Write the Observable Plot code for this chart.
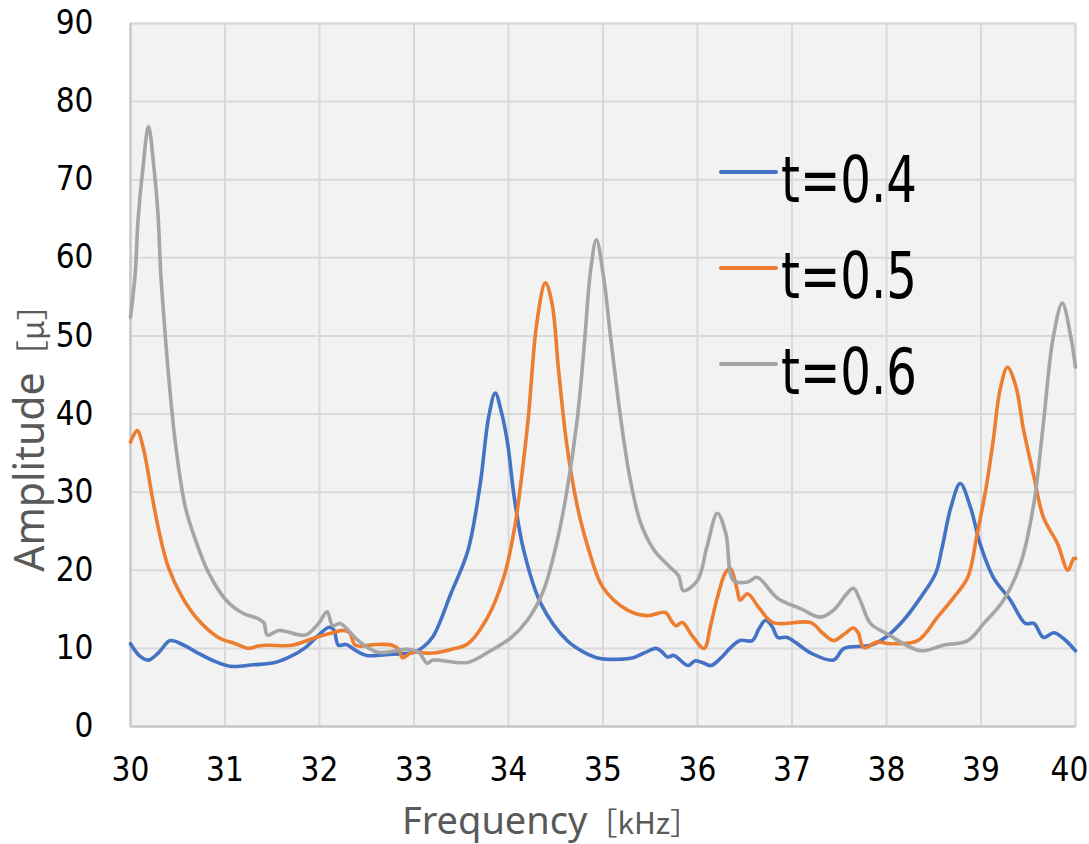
<!DOCTYPE html>
<html>
<head>
<meta charset="utf-8">
<script src="https://cdn.jsdelivr.net/npm/d3@7"></script>
<script src="https://cdn.jsdelivr.net/npm/@observablehq/plot@0.6"></script>
<style>
  html, body { margin: 0; padding: 0; background: #ffffff; }
  #chart { width: 1089px; height: 844px; }
</style>
</head>
<body>
<div id="chart"></div>
<script>
// ---- Data ----
const seriesNames = ["t=0.4", "t=0.5", "t=0.6"];
const seriesColors = ["#4472C4", "#ED7D31", "#A5A5A5"];

const freq04 = [30.0,30.1,30.19,30.3,30.42,30.55,30.7,30.9,31.06,31.3,31.53,31.7,31.85,32.0,32.1,32.15,32.2,32.28,32.4,32.5,32.7,33.0,33.09,33.2,33.39,33.57,33.7,33.79,33.86,33.92,33.99,34.06,34.16,34.34,34.62,34.8,34.97,35.15,35.32,35.45,35.56,35.62,35.68,35.75,35.9,35.97,36.05,36.14,36.25,36.35,36.45,36.58,36.65,36.72,36.79,36.85,36.95,37.2,37.44,37.55,37.83,38.0,38.18,38.36,38.52,38.59,38.68,38.78,38.89,38.99,39.13,39.31,39.47,39.56,39.66,39.77,39.87,40.0];
const amp04  = [10.6,9.0,8.5,9.5,11.0,10.5,9.5,8.3,7.7,7.9,8.2,9.0,10.1,11.8,12.7,12.4,10.4,10.5,9.6,9.1,9.2,9.5,10.1,11.5,17.0,22.5,31.0,39.6,42.7,40.5,36.3,29.4,22.6,15.8,11.0,9.5,8.7,8.6,8.8,9.5,10.0,9.6,8.9,9.1,7.8,8.4,8.2,7.8,8.8,10.1,11.0,11.0,12.5,13.6,12.8,11.4,11.4,9.4,8.5,10.0,10.4,11.5,13.6,16.5,19.6,23.0,28.0,31.1,28.0,23.4,19.1,16.2,13.2,13.2,11.4,12.0,11.3,9.7];

const freq05 = [30.0,30.07,30.14,30.23,30.3,30.4,30.55,30.72,30.93,31.11,31.25,31.35,31.46,31.71,31.96,32.14,32.25,32.32,32.38,32.6,32.77,32.84,32.88,32.98,33.12,33.2,33.4,33.57,33.78,33.95,34.06,34.13,34.21,34.3,34.39,34.46,34.53,34.62,34.73,34.84,35.0,35.26,35.47,35.66,35.72,35.77,35.84,35.95,36.07,36.14,36.21,36.3,36.35,36.42,36.45,36.53,36.65,36.8,37.2,37.32,37.44,37.55,37.65,37.7,37.76,37.9,38.04,38.33,38.54,38.71,38.86,38.96,39.05,39.13,39.2,39.28,39.37,39.45,39.56,39.66,39.81,39.92,39.98,40.0];
const amp05  = [36.4,37.9,35.4,29.4,25.1,20.4,16.5,13.6,11.4,10.6,10.0,10.3,10.4,10.4,11.4,12.0,12.3,12.0,10.4,10.5,10.4,9.8,8.8,9.5,9.4,9.4,9.9,10.6,14.0,19.1,25.1,31.1,39.6,51.7,56.8,54.2,45.6,35.8,28.1,23.0,17.8,14.9,14.2,14.6,13.6,12.9,13.3,11.5,10.0,13.0,16.5,19.8,20.2,17.5,16.2,17.0,15.2,13.3,13.3,12.0,11.0,11.8,12.6,12.0,10.1,10.8,10.6,11.0,14.0,16.5,19.1,24.7,30.3,36.7,43.0,46.0,43.5,38.0,32.0,26.8,23.4,20.0,21.5,21.5];

const freq06 = [30.0,30.05,30.08,30.13,30.19,30.25,30.29,30.32,30.35,30.4,30.48,30.58,30.69,30.83,31.01,31.19,31.35,31.41,31.45,31.57,31.85,31.99,32.08,32.14,32.22,32.41,32.62,32.94,33.05,33.14,33.2,33.57,33.81,34.02,34.2,34.37,34.51,34.62,34.73,34.8,34.87,34.93,35.01,35.08,35.19,35.29,35.4,35.54,35.71,35.8,35.85,36.0,36.1,36.21,36.3,36.38,36.53,36.63,36.85,37.09,37.3,37.44,37.58,37.65,37.72,37.83,38.0,38.36,38.6,38.86,39.03,39.24,39.42,39.56,39.66,39.76,39.86,39.95,40.0];
const amp06  = [52.4,58.0,64.9,71.3,76.8,71.3,65.8,58.0,52.9,45.3,35.8,28.1,23.8,19.6,16.2,14.5,13.8,13.3,11.7,12.3,11.7,13.2,14.7,12.9,13.2,11.0,9.5,9.9,9.5,8.1,8.5,8.2,9.7,11.3,13.6,17.4,23.5,30.3,39.6,48.6,58.5,62.3,57.2,49.9,39.2,31.5,26.0,22.6,20.4,19.3,17.4,18.7,23.0,27.3,24.7,18.7,18.5,19.1,16.4,15.1,14.0,14.9,17.0,17.7,16.2,13.2,11.9,9.7,10.4,11.0,13.2,16.2,20.9,28.6,38.8,49.5,54.2,49.9,46.0];

const xTicks = [30,31,32,33,34,35,36,37,38,39,40];
const yTicks = [0,10,20,30,40,50,60,70,80,90];

const xTitle = "Frequency";
const xUnit = "［kHz］";
const yTitle = "Amplitude";
const yUnit = "［μ］";

// Build a tidy table for Plot
const seriesFreqs = [freq04, freq05, freq06];
const seriesAmps = [amp04, amp05, amp06];
const rows = [];
seriesNames.forEach((name, i) => {
  seriesFreqs[i].forEach((f, j) => rows.push({series: name, freq: f, amp: seriesAmps[i][j]}));
});

const tickFont = "'Liberation Sans Narrow', 'DejaVu Sans Condensed', 'Liberation Sans', sans-serif";

const chart = Plot.plot({
  width: 1089,
  height: 844,
  marginLeft: 130,
  marginRight: 14,
  marginTop: 23,
  marginBottom: 118,
  style: {background: "#ffffff", fontFamily: tickFont, fontSize: "33px", color: "#000"},
  x: {domain: [30, 40], ticks: xTicks, tickSize: 0, tickPadding: 31, label: null, tickFormat: d => String(d)},
  y: {domain: [0, 90], ticks: yTicks, tickSize: 0, tickPadding: 37, label: null},
  color: {domain: seriesNames, range: seriesColors},
  marks: [
    Plot.frame({fill: "#f2f2f2", stroke: "#d9d9d9", strokeWidth: 2}),
    Plot.gridX(xTicks, {stroke: "#d9d9d9", strokeOpacity: 1, strokeWidth: 2}),
    Plot.gridY(yTicks, {stroke: "#d9d9d9", strokeOpacity: 1, strokeWidth: 2}),
    Plot.ruleX([30], {stroke: "#c6c6c6", strokeWidth: 2}),
    Plot.ruleY([0], {stroke: "#c6c6c6", strokeWidth: 2}),
    Plot.line(rows, {x: "freq", y: "amp", z: "series", stroke: "series", strokeWidth: 3.6, curve: "catmull-rom", strokeLinejoin: "round"}),
    Plot.axisX({ticks: xTicks, tickSize: 0, tickPadding: 31, fill: "#000", fontSize: 33, tickFormat: d => String(d)}),
    Plot.axisY({ticks: yTicks, tickSize: 0, tickPadding: 37, fill: "#000", fontSize: 33})
  ]
});

document.getElementById("chart").appendChild(chart);

const svg = d3.select(chart);

// keep the last x tick label inside the picture, as in the reference
const xLabels = svg.selectAll('g[aria-label="x-axis tick label"] text').nodes();
if (xLabels.length) d3.select(xLabels[xLabels.length - 1]).attr("dx", -6);

// Axis titles and the in-plot legend, drawn into the same SVG
const titleFont = "'Noto Sans', 'DejaVu Sans', sans-serif";
const unitFont = "'Noto Sans CJK JP', 'Noto Sans', sans-serif";

const xt = svg.append("text")
  .attr("x", 551).attr("y", 834)
  .attr("text-anchor", "middle")
  .attr("font-family", titleFont)
  .attr("fill", "#595959");
xt.append("tspan").attr("font-size", 38).text(xTitle);
xt.append("tspan").attr("font-size", 30).attr("font-family", unitFont).text(xUnit);

const yt = svg.append("text")
  .attr("transform", "translate(44,430) rotate(-90)")
  .attr("text-anchor", "middle")
  .attr("font-family", titleFont)
  .attr("fill", "#595959");
yt.append("tspan").attr("font-size", 41).text(yTitle);
yt.append("tspan").attr("font-size", 32).attr("font-family", unitFont).text(yUnit);

const legend = svg.append("g");
seriesNames.forEach((name, i) => {
  const cy = 172 + i * 96;
  legend.append("line")
    .attr("x1", 721).attr("x2", 776)
    .attr("y1", cy).attr("y2", cy)
    .attr("stroke", seriesColors[i]).attr("stroke-width", 4).attr("stroke-linecap", "round");
  legend.append("text")
    .attr("x", 781).attr("y", cy + 30)
    .attr("text-anchor", "start")
    .attr("font-family", tickFont)
    .attr("font-size", 64)
    .attr("textLength", 136)
    .attr("lengthAdjust", "spacingAndGlyphs")
    .attr("fill", "#000")
    .text(name);
});
</script>
</body>
</html>
